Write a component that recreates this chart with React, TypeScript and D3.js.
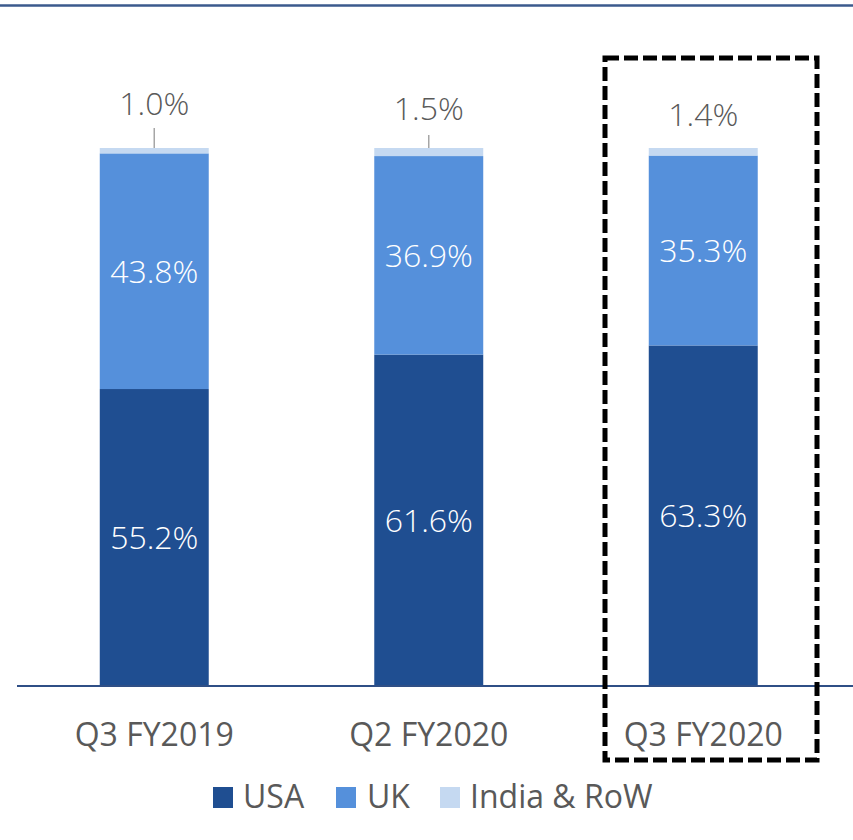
import React from "react";
import * as d3 from "d3";

const categories = ["Q3 FY2019", "Q2 FY2020", "Q3 FY2020"];
const seriesNames = ["USA", "UK", "India & RoW"];
const usa = [55.2, 61.6, 63.3];
const uk = [43.8, 36.9, 35.3];
const row = [1.0, 1.5, 1.4];
const colors = ["#1F4E91", "#5590DB", "#C5D9F1"];

const W = 853;
const H = 840;
const FONT = "'Open Sans', 'Noto Sans', sans-serif";

export default function App() {
  const x = d3
    .scaleBand<string>()
    .domain(categories)
    .range([17, 840.5])
    .paddingInner(0.603)
    .paddingOuter(0.3015);
  const y = d3.scaleLinear().domain([0, 100]).range([686, 148]);

  const rows = categories.map((c, i) => ({ cat: c, USA: usa[i], UK: uk[i], "India & RoW": row[i] }));
  const stack = d3.stack<any>().keys(seriesNames)(rows);
  const bw = x.bandwidth();
  const labelFmt = (v: number) => v.toFixed(1) + "%";
  const topLabelBaseline = [115, 120, 126];
  const leaderTop = [128, 135, 0];

  const legendItems = [
    { name: "USA", sx: 213, tx: 243 },
    { name: "UK", sx: 336, tx: 367 },
    { name: "India & RoW", sx: 440, tx: 470 },
  ];

  return (
    <svg width={W} height={H} style={{ position: "absolute", left: 0, top: 0, background: "#fff" }}>
      <line x1={0} x2={W} y1={5.5} y2={5.5} stroke="#3B5A8D" strokeWidth={2.5} />
      {stack.map((s, si) =>
        s.map((d, i) => (
          <rect
            key={si + "-" + i}
            x={x(categories[i])}
            width={bw}
            y={y(d[1])}
            height={y(d[0]) - y(d[1])}
            fill={colors[si]}
          />
        ))
      )}
      {stack.slice(0, 2).map((s, si) =>
        s.map((d, i) => (
          <text
            key={"l" + si + "-" + i}
            x={(x(categories[i]) as number) + bw / 2}
            y={(y(d[0]) + y(d[1])) / 2}
            dy="0.36em"
            textAnchor="middle"
            fill="#fff"
            fontFamily={FONT}
            fontSize={32}
            fontWeight={300}
          >
            {labelFmt(d[1] - d[0])}
          </text>
        ))
      )}
      {stack[2].map((d, i) => {
        const cx = (x(categories[i]) as number) + bw / 2;
        return (
          <g key={"t" + i}>
            {leaderTop[i] > 0 && (
              <line x1={cx} x2={cx} y1={leaderTop[i]} y2={y(d[1])} stroke="#A6A6A6" strokeWidth={1.5} />
            )}
            <text
              x={cx}
              y={topLabelBaseline[i]}
              textAnchor="middle"
              fill="#595959"
              fontFamily={FONT}
              fontSize={32}
              fontWeight={300}
            >
              {labelFmt(d[1] - d[0])}
            </text>
          </g>
        );
      })}
      <line x1={17} x2={W} y1={686} y2={686} stroke="#2F4F86" strokeWidth={2} />
      {categories.map((c) => (
        <text
          key={c}
          x={(x(c) as number) + bw / 2}
          y={746}
          textAnchor="middle"
          fill="#595959"
          fontFamily={FONT}
          fontSize={32}
        >
          {c}
        </text>
      ))}
      <rect
        x={605}
        y={58}
        width={212}
        height={702}
        fill="none"
        stroke="#000"
        strokeWidth={5}
        strokeDasharray="14 5"
      />
      {legendItems.map((l, i) => (
        <g key={l.name}>
          <rect x={l.sx} y={787} width={20} height={21} fill={colors[i]} />
          <text x={l.tx} y={808} fill="#595959" fontFamily={FONT} fontSize={32}>
            {l.name}
          </text>
        </g>
      ))}
    </svg>
  );
}
